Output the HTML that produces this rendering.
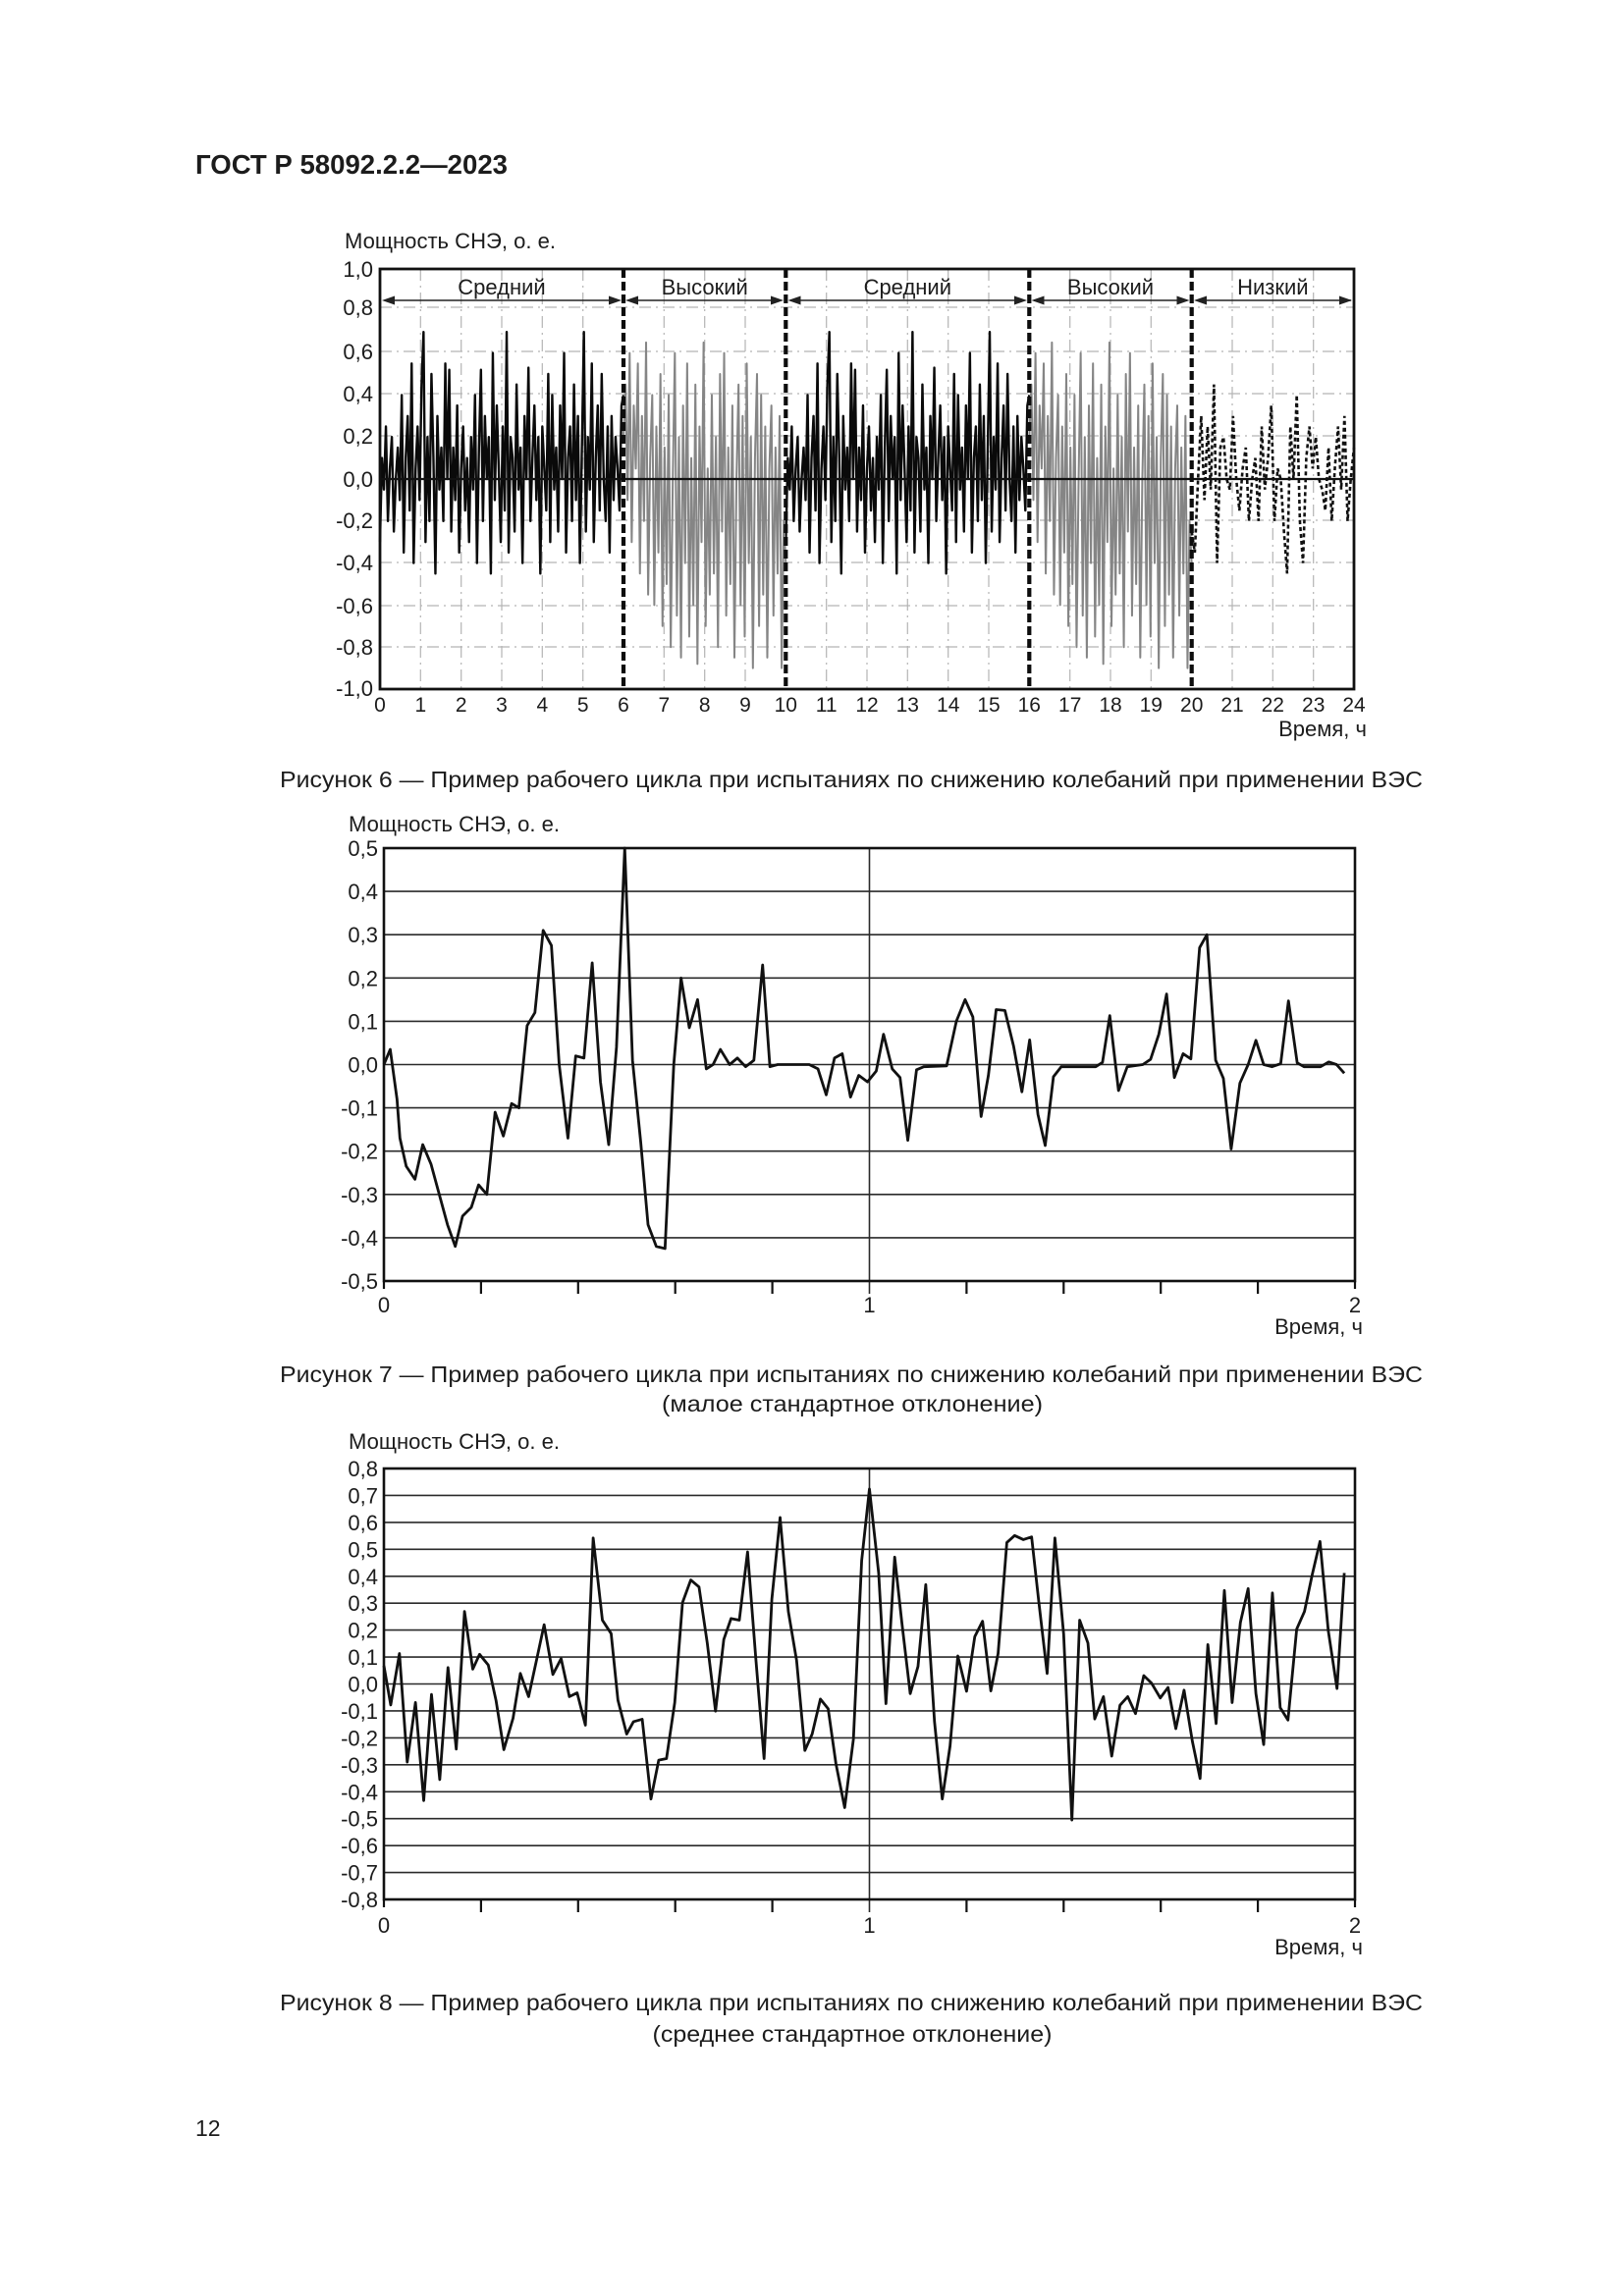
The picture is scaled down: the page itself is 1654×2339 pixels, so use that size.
<!DOCTYPE html>
<html><head><meta charset="utf-8"><style>
html,body{margin:0;padding:0;background:#fff;}
svg{display:block;}
text{font-family:"Liberation Sans",Arial,sans-serif;fill:#1c1c1c;}
.t21{font-size:21px;}
.t22{font-size:22px;}
.t23{font-size:23px;}
</style></head><body>
<svg width="1654" height="2339" viewBox="0 0 1654 2339" xmlns="http://www.w3.org/2000/svg">
<rect width="1654" height="2339" fill="#fff"/>

<text x="199" y="177" font-size="28" font-weight="bold" textLength="318" lengthAdjust="spacingAndGlyphs">ГОСТ Р 58092.2.2—2023</text>

<!-- ================= CHART 1 ================= -->
<text class="t22" x="351" y="253" textLength="215" lengthAdjust="spacingAndGlyphs">Мощность СНЭ, о. е.</text>

<g stroke="#b4b4b4" stroke-width="1.2" stroke-dasharray="12 5 2 5" fill="none">
<line x1="387" y1="313" x2="1379" y2="313"/>
<line x1="387" y1="358" x2="1379" y2="358"/>
<line x1="387" y1="401" x2="1379" y2="401"/>
<line x1="387" y1="444" x2="1379" y2="444"/>
<line x1="387" y1="530" x2="1379" y2="530"/>
<line x1="387" y1="573" x2="1379" y2="573"/>
<line x1="387" y1="617" x2="1379" y2="617"/>
<line x1="387" y1="659" x2="1379" y2="659"/>
<line x1="428.3" y1="274" x2="428.3" y2="702"/>
<line x1="469.7" y1="274" x2="469.7" y2="702"/>
<line x1="511" y1="274" x2="511" y2="702"/>
<line x1="552.3" y1="274" x2="552.3" y2="702"/>
<line x1="593.7" y1="274" x2="593.7" y2="702"/>
<line x1="676.3" y1="274" x2="676.3" y2="702"/>
<line x1="717.7" y1="274" x2="717.7" y2="702"/>
<line x1="759" y1="274" x2="759" y2="702"/>
<line x1="841.7" y1="274" x2="841.7" y2="702"/>
<line x1="883" y1="274" x2="883" y2="702"/>
<line x1="924.3" y1="274" x2="924.3" y2="702"/>
<line x1="965.7" y1="274" x2="965.7" y2="702"/>
<line x1="1007" y1="274" x2="1007" y2="702"/>
<line x1="1089.7" y1="274" x2="1089.7" y2="702"/>
<line x1="1131" y1="274" x2="1131" y2="702"/>
<line x1="1172.3" y1="274" x2="1172.3" y2="702"/>
<line x1="1255" y1="274" x2="1255" y2="702"/>
<line x1="1296.3" y1="274" x2="1296.3" y2="702"/>
<line x1="1337.7" y1="274" x2="1337.7" y2="702"/>
</g>

<!-- medium series (black) -->
<polyline id="med" transform="translate(387,488) scale(2.0163,-2.14)" vector-effect="non-scaling-stroke" fill="none" stroke="#0a0a0a" stroke-width="2.4" stroke-linejoin="round"
points="0,-30 1,10 2,-5 3,25 4,-20 5,5 6,20 7,-25 8,0 9,15 10,-10 11,40 12,-35 13,10 14,30 15,-15 16,55 17,-40 18,5 19,25 20,-10 21,45 22,70 23,-30 24,20 25,-20 26,50 27,10 28,-45 29,30 30,-5 31,15 32,-20 33,55 34,0 35,52 36,-25 37,15 38,-10 39,35 40,-35 41,5 42,25 43,-15 44,10 45,-30 46,20 47,-5 48,40 49,-40 50,15 51,52 52,-20 53,30 54,0 55,20 56,-45 57,60 58,-10 59,35 60,5 61,-30 62,25 63,-15 64,70 65,-35 66,20 67,10 68,-25 69,45 70,-5 71,15 72,-40 73,30 74,0 75,53 76,-20 77,10 78,35 79,-10 80,20 81,-45 82,25 83,5 84,-15 85,50 86,-30 87,40 88,-5 89,15 90,-25 91,35 92,0 93,60 94,-35 95,10 96,25 97,-20 98,45 99,-10 100,30 101,-40 102,15 103,70 104,-25 105,20 106,-5 107,55 108,-30 109,10 110,35 111,-15 112,50 113,0 114,-20 115,25 116,-35 117,30 118,-10 119,20 120,5 121,-15 122,35 123,40"/>
<use href="#med" x="413.33"/>

<!-- high series (gray) -->
<polyline id="high" transform="translate(635,488) scale(2.0924,-2.14)" vector-effect="non-scaling-stroke" fill="none" stroke="#858585" stroke-width="2" stroke-linejoin="round"
points="0,20 1,45 2,-10 3,60 4,-30 5,35 6,5 7,55 8,-45 9,30 10,-20 11,65 12,-55 13,10 14,40 15,-60 16,25 17,-35 18,50 19,-70 20,15 21,-50 22,40 23,-80 24,0 25,60 26,-65 27,20 28,-85 29,35 30,-40 31,55 32,-75 33,10 34,-60 35,45 36,-88 37,25 38,-30 39,65 40,-70 41,5 42,-55 43,40 44,-45 45,20 46,-80 47,50 48,-25 49,60 50,-65 51,15 52,-50 53,35 54,-85 55,0 56,45 57,-60 58,30 59,-75 60,55 61,-40 62,20 63,-90 64,10 65,50 66,-70 67,40 68,-55 69,25 70,-85 71,5 72,35 73,-65 74,15 75,-45 76,30 77,-90 78,-20 79,-40"/>
<use href="#high" x="413.33"/>

<!-- low series (dashed) -->
<polyline fill="none" stroke="#111" stroke-width="2.6" stroke-dasharray="4 3"
points="1213.7,541.5 1216.9,562.9 1220.2,488 1223.4,423.8 1226.7,509.4 1229.9,434.5 1233.1,498.7 1236.4,391.7 1239.6,573.6 1242.9,455.9 1246.1,445.2 1249.3,488 1252.6,498.7 1255.8,423.8 1259.1,488 1262.3,520.1 1265.6,477.3 1268.8,455.9 1272,530.8 1275.3,488 1278.5,466.6 1281.8,530.8 1285,434.5 1288.2,498.7 1291.5,466.6 1294.7,413.1 1298,530.8 1301.2,477.3 1304.4,488 1307.7,541.5 1310.9,584.3 1314.2,434.5 1317.4,488 1320.7,402.4 1323.9,530.8 1327.1,573.6 1330.4,466.6 1333.6,434.5 1336.9,477.3 1340.1,445.2 1343.3,488 1346.6,498.7 1349.8,520.1 1353.1,455.9 1356.3,530.8 1359.5,477.3 1362.8,434.5 1366,498.7 1369.3,423.8 1372.5,530.8 1375.7,488 1379,455.9"/>

<!-- zero line -->
<line x1="387" y1="488" x2="1379" y2="488" stroke="#111" stroke-width="2.2"/>

<!-- separators -->
<g stroke="#0d0d0d" stroke-width="4.2" stroke-dasharray="9 4">
<line x1="635" y1="274" x2="635" y2="702"/>
<line x1="800.3" y1="274" x2="800.3" y2="702"/>
<line x1="1048.3" y1="274" x2="1048.3" y2="702"/>
<line x1="1213.7" y1="274" x2="1213.7" y2="702"/>
</g>

<!-- arrows -->
<g stroke="#222" stroke-width="1.6">
<line x1="392" y1="306" x2="630" y2="306"/>
<line x1="640" y1="306" x2="795" y2="306"/>
<line x1="805" y1="306" x2="1043" y2="306"/>
<line x1="1053" y1="306" x2="1209" y2="306"/>
<line x1="1219" y1="306" x2="1376" y2="306"/>
</g>
<g fill="#222">
<polygon points="389,306 402,301.5 402,310.5"/>
<polygon points="633,306 620,301.5 620,310.5"/>
<polygon points="637,306 650,301.5 650,310.5"/>
<polygon points="798,306 785,301.5 785,310.5"/>
<polygon points="802.5,306 815.5,301.5 815.5,310.5"/>
<polygon points="1046,306 1033,301.5 1033,310.5"/>
<polygon points="1050.5,306 1063.5,301.5 1063.5,310.5"/>
<polygon points="1211.5,306 1198.5,301.5 1198.5,310.5"/>
<polygon points="1216,306 1229,301.5 1229,310.5"/>
<polygon points="1377,306 1364,301.5 1364,310.5"/>
</g>
<g class="t22" text-anchor="middle">
<text x="511" y="300">Средний</text>
<text x="717.7" y="300">Высокий</text>
<text x="924.3" y="300">Средний</text>
<text x="1131" y="300">Высокий</text>
<text x="1296.3" y="300">Низкий</text>
</g>

<!-- box -->
<rect x="387" y="274" width="992" height="428" fill="none" stroke="#111" stroke-width="2.8"/>

<!-- y labels -->
<g class="t22" text-anchor="end">
<text x="380" y="282">1,0</text>
<text x="380" y="321">0,8</text>
<text x="380" y="366">0,6</text>
<text x="380" y="409">0,4</text>
<text x="380" y="452">0,2</text>
<text x="380" y="496">0,0</text>
<text x="380" y="538">-0,2</text>
<text x="380" y="581">-0,4</text>
<text x="380" y="625">-0,6</text>
<text x="380" y="667">-0,8</text>
<text x="380" y="709">-1,0</text>
</g>
<g class="t21" text-anchor="middle">
<text x="387" y="725">0</text>
<text x="428.3" y="725">1</text>
<text x="469.7" y="725">2</text>
<text x="511" y="725">3</text>
<text x="552.3" y="725">4</text>
<text x="593.7" y="725">5</text>
<text x="635" y="725">6</text>
<text x="676.3" y="725">7</text>
<text x="717.7" y="725">8</text>
<text x="759" y="725">9</text>
<text x="800.3" y="725">10</text>
<text x="841.7" y="725">11</text>
<text x="883" y="725">12</text>
<text x="924.3" y="725">13</text>
<text x="965.7" y="725">14</text>
<text x="1007" y="725">15</text>
<text x="1048.3" y="725">16</text>
<text x="1089.7" y="725">17</text>
<text x="1131" y="725">18</text>
<text x="1172.3" y="725">19</text>
<text x="1213.7" y="725">20</text>
<text x="1255" y="725">21</text>
<text x="1296.3" y="725">22</text>
<text x="1337.7" y="725">23</text>
<text x="1379" y="725">24</text>
</g>
<text class="t22" x="1392" y="750" text-anchor="end">Время, ч</text>

<text class="t23" x="867" y="802" text-anchor="middle" textLength="1164" lengthAdjust="spacingAndGlyphs">Рисунок 6 — Пример рабочего цикла при испытаниях по снижению колебаний при применении ВЭС</text>

<!-- ================= CHART 2 ================= -->
<text class="t22" x="355" y="847" textLength="215" lengthAdjust="spacingAndGlyphs">Мощность СНЭ, о. е.</text>
<g stroke="#2a2a2a" stroke-width="1.6">
<line x1="391" y1="908.1" x2="1380" y2="908.1"/>
<line x1="391" y1="952.2" x2="1380" y2="952.2"/>
<line x1="391" y1="996.3" x2="1380" y2="996.3"/>
<line x1="391" y1="1040.4" x2="1380" y2="1040.4"/>
<line x1="391" y1="1084.5" x2="1380" y2="1084.5"/>
<line x1="391" y1="1128.6" x2="1380" y2="1128.6"/>
<line x1="391" y1="1172.7" x2="1380" y2="1172.7"/>
<line x1="391" y1="1216.8" x2="1380" y2="1216.8"/>
<line x1="391" y1="1260.9" x2="1380" y2="1260.9"/>
<line x1="885.5" y1="864" x2="885.5" y2="1318"/>
</g>
<g stroke="#111" stroke-width="2.2">
<line x1="489.9" y1="1305" x2="489.9" y2="1318"/>
<line x1="588.8" y1="1305" x2="588.8" y2="1318"/>
<line x1="687.7" y1="1305" x2="687.7" y2="1318"/>
<line x1="786.6" y1="1305" x2="786.6" y2="1318"/>
<line x1="984.4" y1="1305" x2="984.4" y2="1318"/>
<line x1="1083.3" y1="1305" x2="1083.3" y2="1318"/>
<line x1="1182.2" y1="1305" x2="1182.2" y2="1318"/>
<line x1="1281.1" y1="1305" x2="1281.1" y2="1318"/>
<line x1="391" y1="1305" x2="391" y2="1313"/>
<line x1="1380" y1="1305" x2="1380" y2="1313"/>
</g>
<rect x="391" y="864" width="989" height="441" fill="none" stroke="#111" stroke-width="2.6"/>
<polyline transform="translate(391,1084.5) scale(494.5,-441)" vector-effect="non-scaling-stroke" fill="none" stroke="#111" stroke-width="2.8" stroke-linejoin="round"
points="0,0 0.013,0.035 0.027,-0.08 0.033,-0.17 0.046,-0.235 0.064,-0.265 0.08,-0.185 0.097,-0.23 0.114,-0.3 0.131,-0.37 0.147,-0.42 0.162,-0.35 0.18,-0.33 0.195,-0.278 0.212,-0.3 0.229,-0.11 0.246,-0.165 0.263,-0.09 0.278,-0.1 0.295,0.09 0.311,0.12 0.328,0.31 0.345,0.275 0.361,0 0.379,-0.17 0.395,0.02 0.412,0.015 0.429,0.235 0.446,-0.04 0.463,-0.185 0.479,0.04 0.496,0.5 0.512,0.01 0.529,-0.18 0.544,-0.37 0.561,-0.42 0.579,-0.425 0.597,0 0.612,0.2 0.629,0.085 0.646,0.15 0.664,-0.01 0.678,0 0.693,0.035 0.712,0 0.728,0.015 0.745,-0.005 0.762,0.01 0.78,0.23 0.795,-0.005 0.811,0 0.876,0 0.894,-0.01 0.911,-0.07 0.928,0.015 0.944,0.025 0.961,-0.075 0.978,-0.025 0.996,-0.04 1.014,-0.015 1.029,0.07 1.047,-0.01 1.063,-0.03 1.079,-0.175 1.097,-0.012 1.112,-0.005 1.159,-0.003 1.179,0.1 1.197,0.15 1.213,0.11 1.23,-0.12 1.245,-0.025 1.261,0.127 1.279,0.125 1.297,0.042 1.314,-0.063 1.33,0.057 1.347,-0.115 1.362,-0.187 1.379,-0.028 1.395,-0.005 1.466,-0.005 1.48,0.005 1.495,0.113 1.513,-0.06 1.531,-0.005 1.563,0 1.579,0.012 1.596,0.07 1.612,0.163 1.628,-0.03 1.646,0.025 1.662,0.013 1.68,0.27 1.695,0.3 1.713,0.01 1.729,-0.032 1.745,-0.195 1.763,-0.043 1.78,0 1.796,0.056 1.812,0 1.829,-0.005 1.847,0.002 1.863,0.147 1.881,0.004 1.895,-0.005 1.929,-0.005 1.946,0.006 1.962,0 1.978,-0.02"/>
<g class="t22" text-anchor="end">
<text x="385" y="872">0,5</text>
<text x="385" y="916.1">0,4</text>
<text x="385" y="960.2">0,3</text>
<text x="385" y="1004.3">0,2</text>
<text x="385" y="1048.4">0,1</text>
<text x="385" y="1092.5">0,0</text>
<text x="385" y="1136.6">-0,1</text>
<text x="385" y="1180.7">-0,2</text>
<text x="385" y="1224.8">-0,3</text>
<text x="385" y="1268.9">-0,4</text>
<text x="385" y="1313">-0,5</text>
</g>
<g class="t22" text-anchor="middle">
<text x="391" y="1337">0</text>
<text x="885.5" y="1337">1</text>
<text x="1380" y="1337">2</text>
</g>
<text class="t22" x="1388" y="1359" text-anchor="end">Время, ч</text>

<text class="t23" x="867" y="1408" text-anchor="middle" textLength="1164" lengthAdjust="spacingAndGlyphs">Рисунок 7 — Пример рабочего цикла при испытаниях по снижению колебаний при применении ВЭС</text>
<text class="t23" x="868" y="1438" text-anchor="middle" textLength="388" lengthAdjust="spacingAndGlyphs">(малое стандартное отклонение)</text>

<!-- ================= CHART 3 ================= -->
<text class="t22" x="355" y="1476" textLength="215" lengthAdjust="spacingAndGlyphs">Мощность СНЭ, о. е.</text>
<g stroke="#2a2a2a" stroke-width="1.6">
<line x1="391" y1="1523.4" x2="1380" y2="1523.4"/>
<line x1="391" y1="1550.9" x2="1380" y2="1550.9"/>
<line x1="391" y1="1578.3" x2="1380" y2="1578.3"/>
<line x1="391" y1="1605.8" x2="1380" y2="1605.8"/>
<line x1="391" y1="1633.2" x2="1380" y2="1633.2"/>
<line x1="391" y1="1660.6" x2="1380" y2="1660.6"/>
<line x1="391" y1="1688.1" x2="1380" y2="1688.1"/>
<line x1="391" y1="1715.5" x2="1380" y2="1715.5"/>
<line x1="391" y1="1742.9" x2="1380" y2="1742.9"/>
<line x1="391" y1="1770.4" x2="1380" y2="1770.4"/>
<line x1="391" y1="1797.8" x2="1380" y2="1797.8"/>
<line x1="391" y1="1825.3" x2="1380" y2="1825.3"/>
<line x1="391" y1="1852.7" x2="1380" y2="1852.7"/>
<line x1="391" y1="1880.2" x2="1380" y2="1880.2"/>
<line x1="391" y1="1907.6" x2="1380" y2="1907.6"/>
<line x1="885.5" y1="1496" x2="885.5" y2="1948"/>
</g>
<g stroke="#111" stroke-width="2.2">
<line x1="489.9" y1="1935" x2="489.9" y2="1948"/>
<line x1="588.8" y1="1935" x2="588.8" y2="1948"/>
<line x1="687.7" y1="1935" x2="687.7" y2="1948"/>
<line x1="786.6" y1="1935" x2="786.6" y2="1948"/>
<line x1="984.4" y1="1935" x2="984.4" y2="1948"/>
<line x1="1083.3" y1="1935" x2="1083.3" y2="1948"/>
<line x1="1182.2" y1="1935" x2="1182.2" y2="1948"/>
<line x1="1281.1" y1="1935" x2="1281.1" y2="1948"/>
<line x1="391" y1="1935" x2="391" y2="1943"/>
<line x1="1380" y1="1935" x2="1380" y2="1943"/>
</g>
<rect x="391" y="1496" width="989" height="439" fill="none" stroke="#111" stroke-width="2.6"/>
<polyline transform="translate(391,1715.5) scale(494.5,-274.4)" vector-effect="non-scaling-stroke" fill="none" stroke="#111" stroke-width="2.8" stroke-linejoin="round"
points="0,0.068 0.014,-0.078 0.032,0.113 0.048,-0.29 0.065,-0.069 0.082,-0.433 0.098,-0.039 0.115,-0.355 0.132,0.061 0.149,-0.242 0.166,0.269 0.183,0.055 0.197,0.11 0.215,0.07 0.231,-0.062 0.247,-0.244 0.266,-0.127 0.281,0.039 0.298,-0.047 0.315,0.094 0.33,0.22 0.348,0.035 0.365,0.094 0.382,-0.047 0.398,-0.033 0.415,-0.153 0.431,0.542 0.45,0.237 0.468,0.187 0.482,-0.06 0.5,-0.186 0.514,-0.14 0.532,-0.131 0.55,-0.427 0.566,-0.283 0.582,-0.277 0.599,-0.069 0.615,0.302 0.632,0.386 0.649,0.36 0.666,0.152 0.683,-0.101 0.7,0.165 0.715,0.243 0.732,0.237 0.749,0.49 0.766,0.094 0.783,-0.277 0.799,0.315 0.816,0.618 0.833,0.269 0.85,0.087 0.867,-0.247 0.882,-0.186 0.899,-0.056 0.915,-0.092 0.931,-0.296 0.949,-0.459 0.967,-0.205 0.984,0.458 1,0.724 1.019,0.412 1.034,-0.073 1.052,0.471 1.067,0.224 1.084,-0.036 1.1,0.065 1.116,0.369 1.134,-0.14 1.15,-0.427 1.166,-0.231 1.182,0.104 1.2,-0.027 1.217,0.176 1.233,0.233 1.25,-0.026 1.265,0.113 1.283,0.525 1.299,0.551 1.317,0.536 1.334,0.546 1.349,0.302 1.366,0.039 1.382,0.542 1.4,0.185 1.417,-0.505 1.433,0.237 1.45,0.152 1.464,-0.13 1.482,-0.047 1.499,-0.268 1.516,-0.079 1.532,-0.047 1.548,-0.11 1.565,0.031 1.581,0.003 1.599,-0.052 1.615,-0.013 1.631,-0.166 1.648,-0.023 1.665,-0.212 1.681,-0.351 1.697,0.146 1.714,-0.147 1.731,0.347 1.747,-0.069 1.764,0.228 1.78,0.354 1.796,-0.036 1.812,-0.225 1.83,0.338 1.846,-0.088 1.862,-0.134 1.88,0.204 1.896,0.269 1.912,0.406 1.928,0.529 1.945,0.198 1.963,-0.017 1.978,0.412"/>
<g class="t22" text-anchor="end">
<text x="385" y="1504">0,8</text>
<text x="385" y="1531.4">0,7</text>
<text x="385" y="1558.9">0,6</text>
<text x="385" y="1586.3">0,5</text>
<text x="385" y="1613.8">0,4</text>
<text x="385" y="1641.2">0,3</text>
<text x="385" y="1668.6">0,2</text>
<text x="385" y="1696.1">0,1</text>
<text x="385" y="1723.5">0,0</text>
<text x="385" y="1750.9">-0,1</text>
<text x="385" y="1778.4">-0,2</text>
<text x="385" y="1805.8">-0,3</text>
<text x="385" y="1833.3">-0,4</text>
<text x="385" y="1860.7">-0,5</text>
<text x="385" y="1888.1">-0,6</text>
<text x="385" y="1915.6">-0,7</text>
<text x="385" y="1943">-0,8</text>
</g>
<g class="t22" text-anchor="middle">
<text x="391" y="1969">0</text>
<text x="885.5" y="1969">1</text>
<text x="1380" y="1969">2</text>
</g>
<text class="t22" x="1388" y="1991" text-anchor="end">Время, ч</text>

<text class="t23" x="867" y="2048" text-anchor="middle" textLength="1164" lengthAdjust="spacingAndGlyphs">Рисунок 8 — Пример рабочего цикла при испытаниях по снижению колебаний при применении ВЭС</text>
<text class="t23" x="868" y="2080" text-anchor="middle" textLength="407" lengthAdjust="spacingAndGlyphs">(среднее стандартное отклонение)</text>

<text class="t23" x="199" y="2176">12</text>
</svg>
</body></html>
